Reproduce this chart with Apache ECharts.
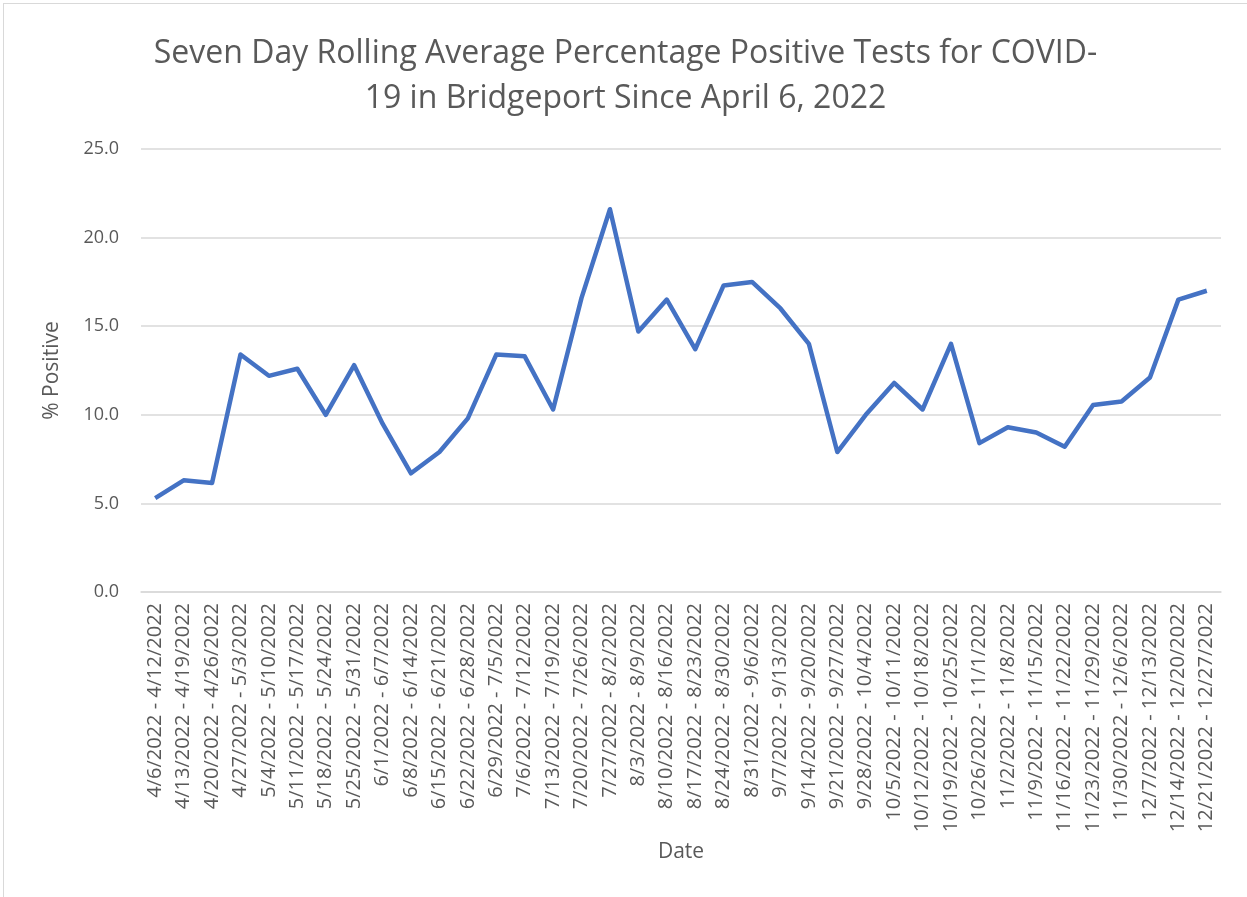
<!DOCTYPE html>
<html>
<head>
<meta charset="utf-8">
<title>COVID-19 Bridgeport</title>
<script src="https://cdn.jsdelivr.net/npm/echarts@6/dist/echarts.min.js"></script>
<style>
  html, body { margin: 0; padding: 0; background: #fff; }
  #main { position: absolute; left: 3px; top: 3px; width: 1244px; height: 894px;
          border-left: 1px solid #d9d9d9; border-top: 1px solid #d9d9d9; box-sizing: border-box; }
</style>
</head>
<body>
<div id="main"></div>
<script>
// week ranges (x axis)
var weeks = [
  '4/6/2022 - 4/12/2022', '4/13/2022 - 4/19/2022', '4/20/2022 - 4/26/2022', '4/27/2022 - 5/3/2022',
  '5/4/2022 - 5/10/2022', '5/11/2022 - 5/17/2022', '5/18/2022 - 5/24/2022', '5/25/2022 - 5/31/2022',
  '6/1/2022 - 6/7/2022', '6/8/2022 - 6/14/2022', '6/15/2022 - 6/21/2022', '6/22/2022 - 6/28/2022',
  '6/29/2022 - 7/5/2022', '7/6/2022 - 7/12/2022', '7/13/2022 - 7/19/2022', '7/20/2022 - 7/26/2022',
  '7/27/2022 - 8/2/2022', '8/3/2022 - 8/9/2022', '8/10/2022 - 8/16/2022', '8/17/2022 - 8/23/2022',
  '8/24/2022 - 8/30/2022', '8/31/2022 - 9/6/2022', '9/7/2022 - 9/13/2022', '9/14/2022 - 9/20/2022',
  '9/21/2022 - 9/27/2022', '9/28/2022 - 10/4/2022', '10/5/2022 - 10/11/2022', '10/12/2022 - 10/18/2022',
  '10/19/2022 - 10/25/2022', '10/26/2022 - 11/1/2022', '11/2/2022 - 11/8/2022', '11/9/2022 - 11/15/2022',
  '11/16/2022 - 11/22/2022', '11/23/2022 - 11/29/2022', '11/30/2022 - 12/6/2022', '12/7/2022 - 12/13/2022',
  '12/14/2022 - 12/20/2022', '12/21/2022 - 12/27/2022'
];
// % positive, 7 day rolling average
var pctPositive = [
  5.3, 6.3, 6.15, 13.4, 12.2, 12.6, 10.0, 12.8,
  9.5, 6.7, 7.9, 9.8, 13.4, 13.3, 10.3, 16.6,
  21.6, 14.7, 16.5, 13.7, 17.3, 17.5, 16.0, 14.0,
  7.9, 10.0, 11.8, 10.3, 14.0, 8.4, 9.3, 9.0,
  8.2, 10.55, 10.75, 12.1, 16.5, 17.0
];
var yTicks = [0, 5, 10, 15, 20, 25];

var myChart = echarts.init(document.getElementById('main'));

var option = {
  animation: false,
  title: {
    text: 'Seven Day Rolling Average Percentage Positive Tests for COVID-\n19 in Bridgeport Since April 6, 2022',
    left: 'center',
    top: 22,
    textStyle: { fontFamily: 'Open Sans', fontWeight: 'normal', fontSize: 32, color: '#595959', lineHeight: 45 }
  },
  grid: { left: 137, right: 26, top: 145, bottom: 305, containLabel: false },
  xAxis: {
    type: 'category',
    data: weeks,
    boundaryGap: true,
    name: 'Date',
    nameLocation: 'middle',
    nameGap: 250,
    nameTextStyle: { fontFamily: 'Open Sans', fontSize: 21, color: '#595959' },
    axisLine: { lineStyle: { color: '#d9d9d9', width: 1.5 } },
    axisTick: { show: false },
    axisLabel: { rotate: 90, interval: 0, margin: 11, fontFamily: 'Open Sans', fontSize: 20, color: '#595959' }
  },
  yAxis: {
    type: 'value',
    min: yTicks[0],
    max: yTicks[yTicks.length - 1],
    interval: 5,
    name: '% Positive',
    nameLocation: 'middle',
    nameGap: 78,
    nameRotate: 90,
    nameTextStyle: { fontFamily: 'Open Sans', fontSize: 21, color: '#595959' },
    axisLine: { show: false },
    axisTick: { show: false },
    splitLine: { lineStyle: { color: '#d9d9d9', width: 1.5 } },
    axisLabel: {
      margin: 22, fontFamily: 'Open Sans', fontSize: 18, color: '#595959',
      formatter: function (v) { return v.toFixed(1); }
    }
  },
  series: [{
    name: '% Positive',
    type: 'line',
    data: pctPositive,
    symbol: 'none',
    lineStyle: { color: '#4472C4', width: 4.5, join: 'round' }
  }]
};
myChart.setOption(option);
</script>
</body>
</html>
